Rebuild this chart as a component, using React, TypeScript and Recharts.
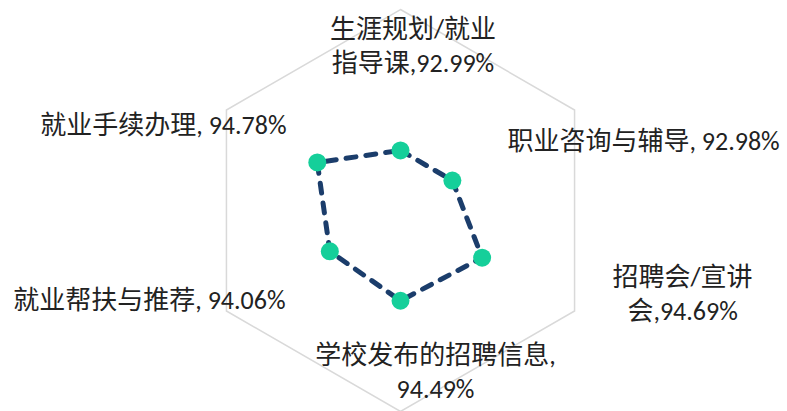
import { RadarChart, Radar, PolarGrid, PolarAngleAxis, PolarRadiusAxis } from "recharts";

const categories = [
  "生涯规划/就业指导课",
  "职业咨询与辅导",
  "招聘会/宣讲会",
  "学校发布的招聘信息",
  "就业帮扶与推荐",
  "就业手续办理",
];
const satisfaction = [92.99, 92.98, 94.69, 94.49, 94.06, 94.78];
const radiusDomain = [90, 100];

const data = categories.map((name, i) => ({ name, value: satisfaction[i] }));

const WIDTH = 787;
const HEIGHT = 411;
const CX = 400.5;
const CY = 210.5;
const OUTER_R = 201;

const FONT = "Calibri, Carlito, 'Noto Sans CJK SC', sans-serif";
const LINE_H = 34;

// where each label wraps (char index) and its shift from the grid vertex
const labelBreaks: (number | null)[] = [7, null, 6, 10, null, null];
const labelOffsets: [number, number][] = [
  [12.5, 19.5],
  [69, 31],
  [108, -34],
  [35, -56.5],
  [-77, -11],
  [-63, 15],
];

const AngleLabel = (props: any) => {
  const { payload, index } = props;
  const i = index ?? payload.index;
  const angle = (payload.coordinate * Math.PI) / 180;
  const vx = CX + OUTER_R * Math.cos(angle);
  const vy = CY - OUTER_R * Math.sin(angle);
  const brk = labelBreaks[i];
  const value = satisfaction[i].toFixed(2) + "%";
  const full = brk == null ? `${categories[i]}, ${value}` : `${categories[i]},${value}`;
  const lines = brk == null ? [full] : [full.slice(0, brk), full.slice(brk)];
  const [dx, dy] = labelOffsets[i];
  return (
    <g>
      {lines.map((line, k) => (
        <text
          key={k}
          x={vx + dx}
          y={vy + dy + k * LINE_H}
          textAnchor="middle"
          dominantBaseline="central"
          fontFamily={FONT}
          fontSize={26}
          fill="#222222"
        >
          {line}
        </text>
      ))}
    </g>
  );
};

const Marker = (props: any) => {
  const { cx, cy, index } = props;
  if (cx == null || cy == null) return <g key={index} />;
  return <circle key={index} cx={cx} cy={cy} r={9} fill="#15CF9A" stroke="none" />;
};

export default function App() {
  return (
    <div
      style={{
        position: "absolute",
        left: 0,
        top: 0,
        width: WIDTH,
        height: HEIGHT,
        background: "#FFFFFF",
        overflow: "hidden",
      }}
    >
      <RadarChart
        width={WIDTH}
        height={HEIGHT}
        data={data}
        cx={CX}
        cy={CY}
        outerRadius={OUTER_R}
        margin={{ top: 0, right: 0, bottom: 0, left: 0 }}
        startAngle={90}
        endAngle={-270}
      >
        <PolarGrid
          gridType="polygon"
          radialLines={false}
          polarRadius={[OUTER_R]}
          stroke="#D9D9D9"
          strokeWidth={1.5}
        />
        <PolarRadiusAxis
          domain={radiusDomain}
          tick={false}
          axisLine={false}
          tickCount={2}
        />
        <PolarAngleAxis
          dataKey="name"
          axisLine={false}
          tickLine={false}
          tick={<AngleLabel />}
        />
        <Radar
          dataKey="value"
          stroke="#1B3D6B"
          strokeWidth={5}
          strokeDasharray="10 10"
          strokeLinecap="round"
          fill="none"
          fillOpacity={0}
          dot={Marker}
          isAnimationActive={false}
        />
      </RadarChart>
    </div>
  );
}
